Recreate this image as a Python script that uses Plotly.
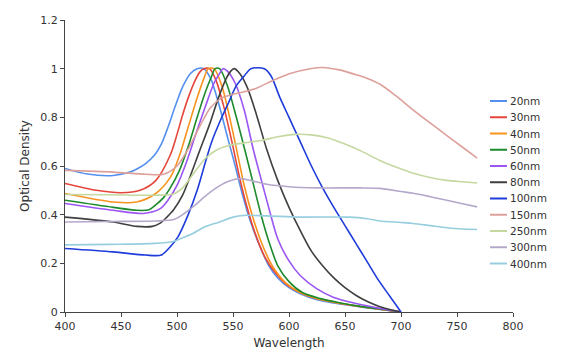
import plotly.graph_objects as go

# ---- data ----
wl_20 = [400, 420, 443, 458, 465, 472, 480, 486, 492, 498, 505, 512, 518, 524, 530, 537, 545, 552, 558, 565, 574, 582, 590, 600, 610, 625, 640, 655, 670, 685, 700]
od_20 = [0.59, 0.567, 0.561, 0.575, 0.59, 0.61, 0.645, 0.69, 0.76, 0.84, 0.925, 0.98, 1.0, 1.0, 0.96, 0.86, 0.72, 0.60, 0.49, 0.38, 0.27, 0.19, 0.14, 0.10, 0.075, 0.05, 0.037, 0.027, 0.017, 0.008, 0.0]

wl_30 = [400, 428, 450, 467, 481, 494, 500, 505, 510, 516, 521, 524, 529, 535, 542, 549, 556, 562, 570, 578, 588, 600, 615, 630, 645, 660, 680, 700]
od_30 = [0.528, 0.50, 0.49, 0.50, 0.54, 0.645, 0.73, 0.81, 0.88, 0.95, 0.99, 1.0, 1.0, 0.95, 0.84, 0.70, 0.55, 0.44, 0.32, 0.23, 0.16, 0.105, 0.07, 0.05, 0.036, 0.025, 0.012, 0.0]

wl_40 = [400, 443, 464, 481, 494, 502, 510, 518, 524, 528, 533, 540, 547, 554, 560, 567, 575, 585, 597, 610, 625, 640, 660, 680, 700]
od_40 = [0.487, 0.452, 0.452, 0.487, 0.553, 0.64, 0.76, 0.88, 0.96, 1.0, 1.0, 0.93, 0.80, 0.65, 0.52, 0.40, 0.29, 0.19, 0.12, 0.08, 0.055, 0.04, 0.025, 0.012, 0.0]

wl_50 = [400, 443, 464, 475, 481, 488, 494, 502, 510, 518, 525, 531, 534, 538, 545, 553, 562, 569, 575, 582, 590, 600, 612, 628, 645, 665, 685, 700]
od_50 = [0.459, 0.43, 0.418, 0.42, 0.44, 0.47, 0.51, 0.58, 0.68, 0.80, 0.90, 0.97, 1.0, 1.0, 0.93, 0.80, 0.64, 0.51, 0.40, 0.29, 0.19, 0.125, 0.08, 0.055, 0.038, 0.022, 0.01, 0.0]

wl_60 = [400, 443, 470, 485, 492, 500, 508, 516, 525, 533, 538, 541, 545, 552, 560, 568, 576, 583, 590, 600, 610, 625, 640, 660, 680, 700]
od_60 = [0.446, 0.418, 0.405, 0.425, 0.46, 0.52, 0.61, 0.72, 0.84, 0.94, 0.98, 1.0, 0.99, 0.94, 0.83, 0.67, 0.53, 0.41, 0.30, 0.21, 0.15, 0.095, 0.06, 0.035, 0.016, 0.0]

wl_80 = [400, 443, 464, 478, 485, 491, 497, 505, 512, 520, 529, 537, 544, 548, 551, 556, 563, 571, 580, 590, 600, 610, 620, 630, 640, 650, 660, 670, 680, 690, 700]
od_80 = [0.39, 0.37, 0.352, 0.352, 0.365, 0.39, 0.42, 0.48, 0.56, 0.66, 0.77, 0.88, 0.96, 0.99, 1.0, 0.98, 0.92, 0.81, 0.67, 0.54, 0.43, 0.335, 0.25, 0.19, 0.14, 0.10, 0.068, 0.043, 0.024, 0.01, 0.0]

wl_100 = [400, 443, 472, 486, 494, 501, 510, 518, 525, 531, 539, 546, 553, 560, 566, 578, 584, 592, 600, 610, 620, 630, 640, 650, 660, 670, 680, 690, 700]
od_100 = [0.261, 0.247, 0.234, 0.234, 0.268, 0.31, 0.40, 0.50, 0.61, 0.70, 0.79, 0.86, 0.93, 0.97, 1.0, 1.0, 0.97, 0.88, 0.80, 0.70, 0.60, 0.51, 0.43, 0.355, 0.28, 0.205, 0.13, 0.065, 0.0]

wl_150 = [400, 443, 472, 488, 500, 510, 520, 530, 540, 550, 560, 571, 585, 601, 619, 630, 645, 660, 670, 681, 695, 711, 726, 741, 755, 768]
od_150 = [0.582, 0.575, 0.566, 0.566, 0.60, 0.67, 0.76, 0.84, 0.88, 0.895, 0.905, 0.92, 0.95, 0.98, 1.0, 1.005, 0.995, 0.975, 0.96, 0.937, 0.89, 0.83, 0.777, 0.725, 0.677, 0.632]

wl_250 = [400, 440, 480, 497, 505, 515, 525, 535, 547, 560, 575, 590, 605, 620, 635, 650, 665, 681, 696, 711, 726, 741, 755, 768]
od_250 = [0.483, 0.482, 0.48, 0.485, 0.51, 0.57, 0.63, 0.665, 0.685, 0.695, 0.705, 0.72, 0.73, 0.728, 0.715, 0.69, 0.66, 0.623, 0.595, 0.57, 0.553, 0.541, 0.535, 0.53]

wl_300 = [400, 440, 480, 497, 505, 515, 525, 535, 545, 556, 566, 580, 600, 625, 663, 681, 700, 711, 726, 741, 755, 768]
od_300 = [0.37, 0.372, 0.374, 0.38, 0.40, 0.435, 0.475, 0.51, 0.535, 0.548, 0.54, 0.525, 0.515, 0.51, 0.51, 0.508, 0.495, 0.488, 0.474, 0.459, 0.445, 0.432]

wl_400 = [400, 440, 480, 497, 505, 515, 525, 538, 550, 560, 580, 610, 654, 670, 681, 700, 711, 726, 741, 755, 768]
od_400 = [0.276, 0.278, 0.282, 0.29, 0.305, 0.325, 0.35, 0.37, 0.39, 0.397, 0.395, 0.39, 0.39, 0.383, 0.374, 0.368, 0.364, 0.355, 0.346, 0.341, 0.339]

series_names = ["20nm", "30nm", "40nm", "50nm", "60nm", "80nm", "100nm", "150nm", "250nm", "300nm", "400nm"]
series_x = [wl_20, wl_30, wl_40, wl_50, wl_60, wl_80, wl_100, wl_150, wl_250, wl_300, wl_400]
series_y = [od_20, od_30, od_40, od_50, od_60, od_80, od_100, od_150, od_250, od_300, od_400]
series_colors = ["#5590EE", "#E5453A", "#F7931E", "#1D8A2C", "#9A55F2", "#3F3F3F",
                 "#1E3CDB", "#DDA09A", "#C4D8A0", "#B4A8CB", "#96CEDF"]

x_ticks = [400, 450, 500, 550, 600, 650, 700, 750, 800]
y_ticks = [0, 0.2, 0.4, 0.6, 0.8, 1.0, 1.2]
y_tick_labels = ["0", "0.2", "0.4", "0.6", "0.8", "1", "1.2"]

font_family = "DejaVu Sans, Verdana, sans-serif"
text_color = "#333333"

fig = go.Figure()
for name, xs, ys, col in zip(series_names, series_x, series_y, series_colors):
    fig.add_trace(go.Scatter(x=xs, y=ys, name=name, mode="lines", showlegend=False,
                             line=dict(color=col, width=1.6, shape="spline", smoothing=0.8)))

# ---- compact legend (Plotly's built-in legend rows are too tall for this layout) ----
W, H = 588, 364
ML, MR, MT, MB = 65, 75, 20, 52
plot_w = W - ML - MR
plot_h = H - MT - MB

def px_to_paper_x(px):
    return (px - ML) / plot_w

def px_to_paper_y(py):
    return (H - MB - py) / plot_h

legend_top_px = 101
legend_step_px = 16.25
for i, (name, col) in enumerate(zip(series_names, series_colors)):
    yc = px_to_paper_y(legend_top_px + legend_step_px * i)
    fig.add_shape(type="line", xref="paper", yref="paper",
                  x0=px_to_paper_x(490), x1=px_to_paper_x(507), y0=yc, y1=yc,
                  line=dict(color=col, width=2))
    fig.add_annotation(xref="paper", yref="paper", x=px_to_paper_x(508), y=yc,
                       xanchor="left", yanchor="middle", text=name, showarrow=False,
                       font=dict(family=font_family, size=10.5, color=text_color))

fig.update_layout(
    width=W, height=H,
    margin=dict(l=ML, r=MR, t=MT, b=MB),
    paper_bgcolor="white", plot_bgcolor="white",
    font=dict(family=font_family, size=11, color=text_color),
    showlegend=False,
    xaxis=dict(range=[400, 800], tickvals=x_ticks, showgrid=False, zeroline=False,
               showline=True, linecolor="#444444", linewidth=1,
               ticks="outside", ticklen=4, tickcolor="#444444",
               title=dict(text="Wavelength", font=dict(size=12), standoff=6)),
    yaxis=dict(range=[0, 1.2], tickvals=y_ticks, ticktext=y_tick_labels, showgrid=False,
               zeroline=False, showline=True, linecolor="#444444", linewidth=1,
               ticks="outside", ticklen=4, tickcolor="#444444",
               title=dict(text="Optical Density", font=dict(size=12), standoff=8)),
)

fig.write_html("out.html", config={"displayModeBar": False},
               post_script="document.body.style.margin='0px';")
